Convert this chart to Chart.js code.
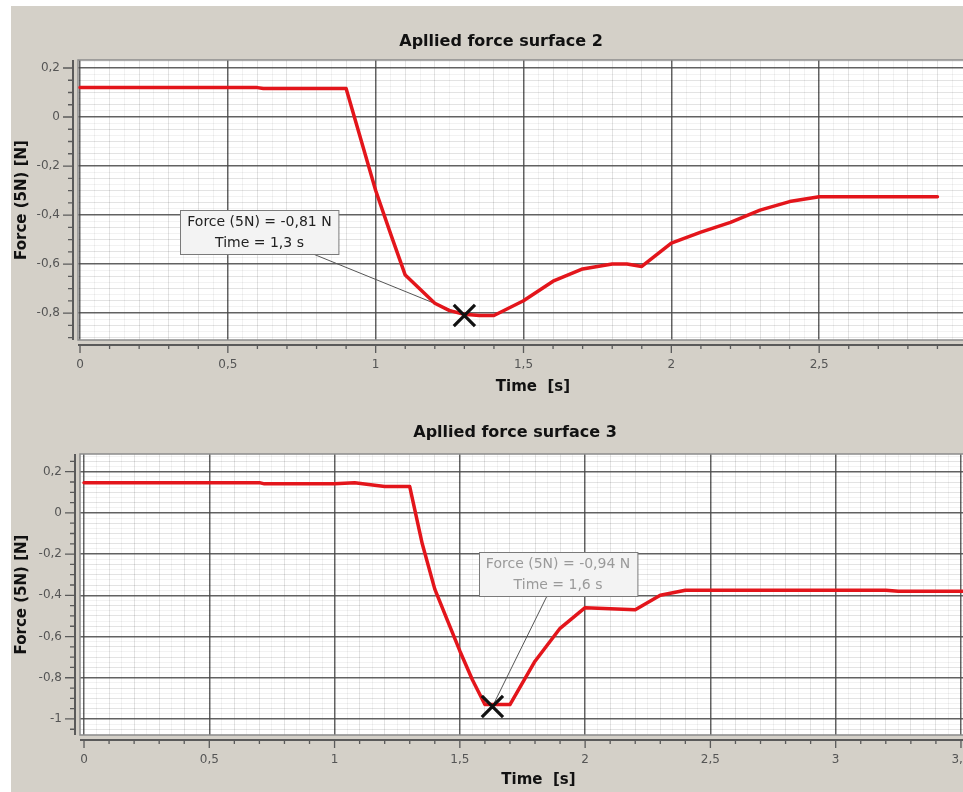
<!DOCTYPE html>
<html><head><meta charset="utf-8">
<script src="https://cdn.jsdelivr.net/npm/chart.js@4/dist/chart.umd.min.js"></script>
<style>
html,body{margin:0;padding:0;background:#fff;overflow:hidden;width:963px;height:792px;}
#c1{position:absolute;left:11px;top:6px;}
#c2{position:absolute;left:11px;top:400px;}
</style></head><body>
<canvas id="c1" width="980" height="394"></canvas>
<canvas id="c2" width="1007" height="392"></canvas>
<script>
// ---- data: surface 2 ----
const time2  = [0, 0.6, 0.62, 0.9, 1.0, 1.05, 1.1, 1.2, 1.25, 1.3, 1.35, 1.4, 1.5, 1.6, 1.7, 1.8, 1.85, 1.9, 2.0, 2.1, 2.2, 2.3, 2.4, 2.5, 2.9];
const force2 = [0.12, 0.12, 0.116, 0.116, -0.30, -0.475, -0.645, -0.76, -0.79, -0.805, -0.81, -0.81, -0.75, -0.67, -0.62, -0.60, -0.60, -0.61, -0.515, -0.47, -0.43, -0.38, -0.345, -0.325, -0.325];
const pickTime2  = [1.3];
const pickForce2 = [-0.81];
const annot2 = ['Force (5N) = -0,81 N', 'Time = 1,3 s'];
const xTicks2 = [0, 0.5, 1, 1.5, 2, 2.5, 3];
const xTickLabels2 = ['0', '0,5', '1', '1,5', '2', '2,5', '3'];
const yTicks2 = [-0.8, -0.6, -0.4, -0.2, 0, 0.2];
const yTickLabels2 = ['-0,8', '-0,6', '-0,4', '-0,2', '0', '0,2'];

// ---- data: surface 3 ----
const time3  = [0, 0.7, 0.72, 1.0, 1.08, 1.2, 1.3, 1.35, 1.4, 1.45, 1.5, 1.55, 1.6, 1.7, 1.8, 1.9, 2.0, 2.2, 2.3, 2.4, 3.2, 3.25, 3.6];
const force3 = [0.147, 0.147, 0.141, 0.141, 0.146, 0.128, 0.128, -0.15, -0.37, -0.52, -0.67, -0.81, -0.93, -0.93, -0.72, -0.56, -0.46, -0.47, -0.40, -0.375, -0.375, -0.38, -0.38];
const pickTime3  = [1.63];
const pickForce3 = [-0.94];
const annot3 = ['Force (5N) = -0,94 N', 'Time = 1,6 s'];
const xTicks3 = [0, 0.5, 1, 1.5, 2, 2.5, 3, 3.5];
const xTickLabels3 = ['0', '0,5', '1', '1,5', '2', '2,5', '3', '3,5'];
const yTicks3 = [-1, -0.8, -0.6, -0.4, -0.2, 0, 0.2];
const yTickLabels3 = ['-1', '-0,8', '-0,6', '-0,4', '-0,2', '0', '0,2'];

const FONT = '"DejaVu Sans", Verdana, sans-serif';
const near = (a, b) => Math.abs(a - b) < 1e-6;
const isMult = (v, s) => Math.abs(v / s - Math.round(v / s)) < 1e-6;

const decor = {
  id: 'decor',
  beforeDraw(chart, args, o) {
    const {ctx, chartArea: a, width, height} = chart;
    ctx.save();
    ctx.fillStyle = '#d4d0c8';
    ctx.fillRect(0, 0, width, height);
    ctx.fillStyle = '#ffffff';
    ctx.fillRect(a.left, a.top, a.right - a.left, a.bottom - a.top);
    ctx.restore();
  },
  beforeDatasetsDraw(chart, args, o) {
    const {ctx, chartArea: a, scales: {x, y}} = chart;
    ctx.save();
    // plot border
    ctx.strokeStyle = '#8c8c8c';
    ctx.lineWidth = 1.5;
    ctx.strokeRect(a.left, a.top, a.right - a.left, a.bottom - a.top);
    // axis lines
    const gap = 5;
    const ax = a.left - gap, ay = a.bottom + gap;
    ctx.strokeStyle = '#5a5a5a';
    ctx.lineWidth = 2;
    ctx.beginPath();
    ctx.moveTo(ax, a.top); ctx.lineTo(ax, a.bottom);
    ctx.moveTo(a.left, ay); ctx.lineTo(a.right, ay);
    ctx.stroke();
    ctx.lineWidth = 1.3;
    ctx.beginPath();
    y.ticks.forEach(t => {
      if (!isMult(t.value, 0.05)) return;
      const p = y.getPixelForValue(t.value);
      const len = o.yMajor.some(m => near(m, t.value)) ? 10 : 5;
      ctx.moveTo(ax - len, p); ctx.lineTo(ax, p);
    });
    x.ticks.forEach(t => {
      if (!isMult(t.value, 0.1)) return;
      const p = x.getPixelForValue(t.value);
      const len = o.xMajor.some(m => near(m, t.value)) ? 8 : 4;
      ctx.moveTo(p, ay); ctx.lineTo(p, ay + len);
    });
    ctx.stroke();
    // leader line
    const mx = x.getPixelForValue(o.pickX), my = y.getPixelForValue(o.pickY);
    const bx = x.getPixelForValue(o.leaderX), by = y.getPixelForValue(o.boxY) + o.boxH / 2;
    ctx.strokeStyle = '#555';
    ctx.lineWidth = 1;
    ctx.beginPath(); ctx.moveTo(bx, by); ctx.lineTo(mx, my); ctx.stroke();
    ctx.restore();
  },
  afterDatasetsDraw(chart, args, o) {
    const {ctx, scales: {x, y}} = chart;
    ctx.save();
    ctx.font = '14px ' + FONT;
    const w = Math.max(...o.lines.map(s => ctx.measureText(s).width)) + 14;
    const cx = x.getPixelForValue(o.boxX), cy = y.getPixelForValue(o.boxY);
    const l = Math.round(cx - w / 2) + 0.5, t = Math.round(cy - o.boxH / 2) + 0.5;
    ctx.fillStyle = '#f3f3f3';
    ctx.fillRect(l, t, w, o.boxH);
    ctx.strokeStyle = '#7a7a7a';
    ctx.lineWidth = 1;
    ctx.strokeRect(l, t, w, o.boxH);
    ctx.fillStyle = o.textColor;
    ctx.textAlign = 'center';
    ctx.textBaseline = 'middle';
    ctx.fillText(o.lines[0], cx, cy - 10);
    ctx.fillText(o.lines[1], cx, cy + 11);
    ctx.restore();
  },
  afterDraw(chart, args, o) {
    const {ctx} = chart;
    ctx.save();
    ctx.font = 'bold 16px ' + FONT;
    ctx.fillStyle = '#111';
    ctx.textAlign = 'center';
    ctx.textBaseline = 'middle';
    ctx.fillText(o.title, o.titleX, o.titleY);
    ctx.restore();
  }
};

function makeChart(id, c) {
  const gridColor = (majors, minorStep) => ctx => {
    const v = ctx.tick ? ctx.tick.value : NaN;
    if (majors.some(m => near(m, v))) return 'rgba(70,70,70,0.85)';
    if (isMult(v, minorStep)) return 'rgba(0,0,0,0.11)';
    return 'rgba(0,0,0,0.05)';
  };
  const gridWidth = majors => ctx => {
    const v = ctx.tick ? ctx.tick.value : NaN;
    return majors.some(m => near(m, v)) ? 1.5 : 1;
  };
  const label = (majors, labels) => v => {
    const i = majors.findIndex(m => near(m, v));
    return i >= 0 ? labels[i] : '';
  };
  const filt = step => s => {
    s.ticks = s.ticks.filter(t => isMult(t.value, step) && t.value >= s.min - 1e-9 && t.value <= s.max + 1e-9);
  };
  return new Chart(document.getElementById(id), {
    type: 'scatter',
    data: {
      datasets: [
        {
          data: c.pickX.map((v, i) => ({x: v, y: c.pickY[i]})),
          pointStyle: 'crossRot', pointRadius: 15, pointBorderWidth: 3.2,
          borderColor: '#111', backgroundColor: '#111', order: 0
        },
        {
          data: c.time.map((v, i) => ({x: v, y: c.force[i]})),
          showLine: true, borderColor: '#e3151b', borderWidth: 3.5,
          pointRadius: 0, tension: 0, order: 1, borderJoinStyle: 'round', borderCapStyle: 'round'
        }
      ]
    },
    options: {
      responsive: false, animation: false, devicePixelRatio: 1,
      layout: {padding: {left: 0, right: c.padRight, top: 54, bottom: 0}},
      plugins: {
        legend: {display: false}, tooltip: {enabled: false}, title: {display: false},
        decor: {
          title: c.title, titleX: c.titleX, titleY: c.titleY,
          xMajor: c.xMajor, yMajor: c.yMajor,
          pickX: c.pickX[0], pickY: c.pickY[0],
          boxX: c.boxX, boxY: c.boxY, leaderX: c.leaderX, boxH: 44,
          lines: c.lines, textColor: c.textColor
        }
      },
      scales: {
        x: {
          type: 'linear', min: c.xMin, max: c.xMax,
          afterBuildTicks: filt(0.05),
          afterFit: s => { s.height = c.xHeight; },
          border: {display: false},
          grid: {color: gridColor(c.xMajor, 0.1), lineWidth: gridWidth(c.xMajor),
            drawTicks: true, tickLength: 14, tickColor: 'rgba(0,0,0,0)'},
          ticks: {stepSize: 0.05, autoSkip: false, includeBounds: false, maxRotation: 0, minRotation: 0,
            padding: 4, color: '#555', font: {family: FONT, size: 12},
            callback: label(c.xMajor, c.xLabels)},
          title: {display: true, text: '    Time  [s]', color: '#111',
            font: {family: FONT, size: 15, weight: 'bold'}, padding: {top: 0, bottom: c.xTitleBottom}}
        },
        y: {
          type: 'linear', min: c.yMin, max: c.yMax,
          afterBuildTicks: filt(0.025),
          afterFit: s => { s.width = c.yWidth; },
          border: {display: false},
          grid: {color: gridColor(c.yMajor, 0.05), lineWidth: gridWidth(c.yMajor),
            drawTicks: true, tickLength: 14, tickColor: 'rgba(0,0,0,0)'},
          ticks: {stepSize: 0.025, autoSkip: false, includeBounds: false,
            padding: 4, color: '#555', font: {family: FONT, size: 12},
            callback: label(c.yMajor, c.yLabels)},
          title: {display: true, text: 'Force (5N) [N]', color: '#111',
            font: {family: FONT, size: 15, weight: 'bold'}, padding: {top: 2, bottom: 0}}
        }
      }
    },
    plugins: [decor]
  });
}

makeChart('c1', {
  title: 'Apllied force surface 2', titleX: 490, titleY: 36,
  time: time2, force: force2,
  pickX: pickTime2, pickY: pickForce2, lines: annot2, textColor: '#222',
  xMajor: xTicks2, xLabels: xTickLabels2, yMajor: yTicks2, yLabels: yTickLabels2,
  xMin: -0.0068, xMax: 3.0, yMin: -0.91, yMax: 0.2327,
  padRight: 24, yWidth: 67, xHeight: 60, xTitleBottom: 4,
  boxX: 0.607, boxY: -0.469, leaderX: 0.788
});
makeChart('c2', {
  title: 'Apllied force surface 3', titleX: 504, titleY: 33,
  time: time3, force: force3,
  pickX: pickTime3, pickY: pickForce3, lines: annot3, textColor: '#9a9a9a',
  xMajor: xTicks3, xLabels: xTickLabels3, yMajor: yTicks3, yLabels: yTickLabels3,
  xMin: -0.016, xMax: 3.56, yMin: -1.078, yMax: 0.286,
  padRight: 42, yWidth: 69, xHeight: 57, xTitleBottom: 3,
  boxX: 1.892, boxY: -0.296, leaderX: 1.848
});
</script>
</body></html>
